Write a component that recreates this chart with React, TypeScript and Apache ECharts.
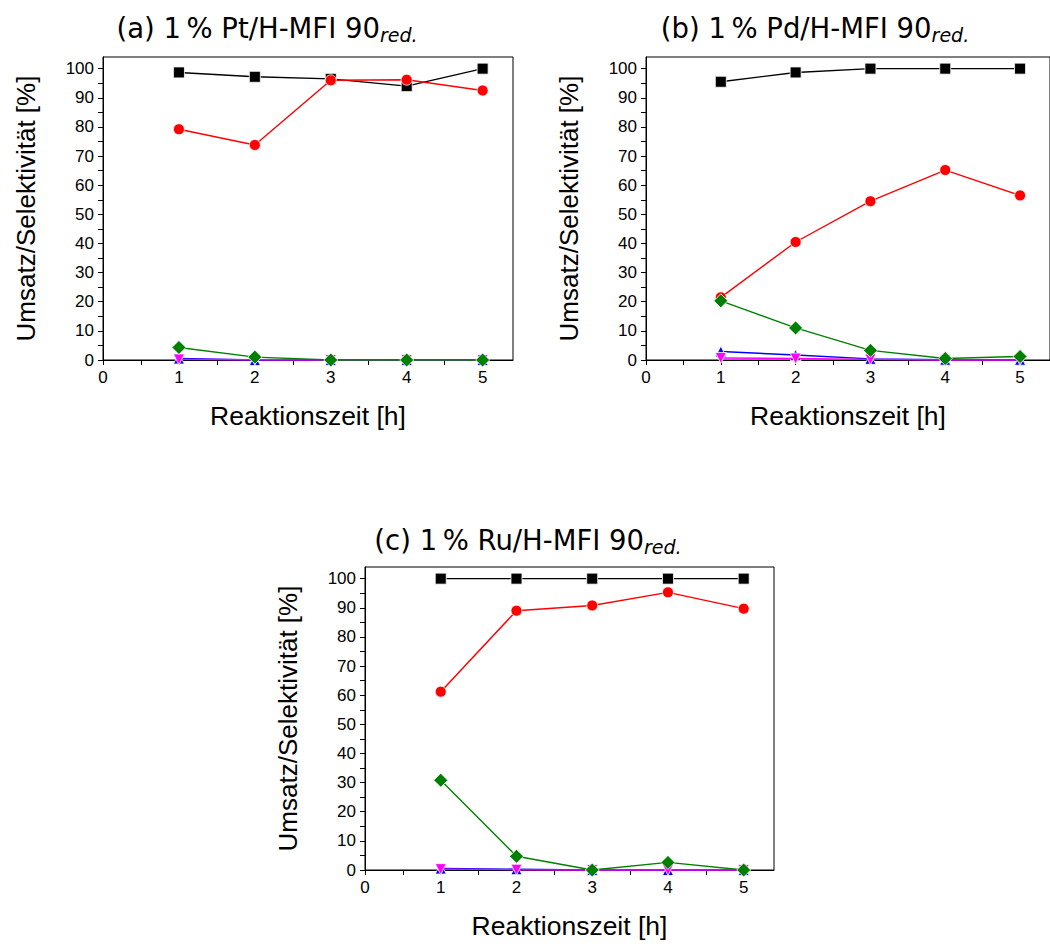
import React, { useEffect, useRef } from "react";
import * as echarts from "echarts";

const hours = [1, 2, 3, 4, 5];

// (a) 1% Pt/H-MFI 90 red.
const ptConversion = [98.7, 97.2, 96.5, 94.0, 100.0];
const ptRed = [79.2, 73.8, 96.0, 96.2, 92.5];
const ptGreen = [4.3, 1.0, 0.0, 0.0, 0.0];
const ptBlue = [0.5, 0.0, 0.0, 0.0, 0.0];
const ptMagenta = [0.2, 0.1, 0.0, 0.0, 0.0];

// (b) 1% Pd/H-MFI 90 red.
const pdConversion = [95.5, 98.7, 100.0, 100.0, 100.0];
const pdRed = [21.5, 40.5, 54.5, 65.2, 56.5];
const pdGreen = [20.3, 11.0, 3.3, 0.5, 1.2];
const pdBlue = [2.9, 1.7, 0.4, 0.1, 0.1];
const pdMagenta = [0.7, 0.5, 0.2, 0.0, 0.0];

// (c) 1% Ru/H-MFI 90 red.
const ruConversion = [100.0, 100.0, 100.0, 100.0, 100.0];
const ruRed = [61.2, 89.0, 90.8, 95.3, 89.7];
const ruGreen = [30.8, 4.7, 0.0, 2.6, 0.0];
const ruBlue = [0.5, 0.3, 0.0, 0.0, 0.0];
const ruMagenta = [0.3, 0.1, 0.0, 0.0, 0.0];

const yTicks = [0, 5, 10, 15, 20, 25, 30, 35, 40, 45, 50, 55, 60, 65, 70, 75, 80, 85, 90, 95, 100];
const yLabels = [0, 10, 20, 30, 40, 50, 60, 70, 80, 90, 100];
const xTicks = [0, 0.5, 1, 1.5, 2, 2.5, 3, 3.5, 4, 4.5, 5];
const xLabels = [0, 1, 2, 3, 4, 5];

const titles = ["(a) 1\u2009% Pt/H-MFI 90", "(b) 1\u2009% Pd/H-MFI 90", "(c) 1\u2009% Ru/H-MFI 90"];
const yName = "Umsatz/Selektivität [%]";
const xName = "Reaktionszeit [h]";

const panels = [
  [ptConversion, ptRed, ptBlue, ptMagenta, ptGreen],
  [pdConversion, pdRed, pdBlue, pdMagenta, pdGreen],
  [ruConversion, ruRed, ruBlue, ruMagenta, ruGreen],
];

const seriesStyles = [
  { color: "#000000", symbol: "rect", size: 11, rotate: 0 },
  { color: "#ff0000", symbol: "circle", size: 11, rotate: 0 },
  { color: "#0000ff", symbol: "triangle", size: 11, rotate: 0 },
  { color: "#ff00ff", symbol: "triangle", size: 11, rotate: 180 },
  { color: "#008000", symbol: "diamond", size: 14, rotate: 0 },
];

const gridPos = [
  { left: 103, top: 57, width: 410, height: 303 },
  { left: 646, top: 57, width: 410, height: 303 },
  { left: 365, top: 567, width: 409, height: 303 },
];

const titlePos = [
  { x: 267, y: 28 },
  { x: 815, y: 28 },
  { x: 528, y: 540 },
];

export default function App() {
  const ref = useRef<HTMLDivElement>(null);
  useEffect(() => {
    if (!ref.current) return;
    const chart = echarts.init(ref.current, undefined, { renderer: "svg" });
    const axisFont = "Liberation Sans";
    const grid = gridPos.map((g) => ({
      ...g,
      show: true,
      borderColor: "#000",
      borderWidth: 1,
      backgroundColor: "transparent",
    }));
    const xAxis = gridPos.map((_, i) => ({
      type: "value",
      gridIndex: i,
      min: 0,
      max: 5.4,
      name: xName,
      nameLocation: "middle",
      nameGap: 42,
      nameTextStyle: { fontFamily: axisFont, fontSize: 26.5, color: "#000" },
      axisLine: { show: true, lineStyle: { color: "#000", width: 1 } },
      axisTick: { show: true, inside: false, length: 5, customValues: xTicks, lineStyle: { color: "#000" } },
      axisLabel: { customValues: xLabels, margin: 9, fontFamily: axisFont, fontSize: 17, color: "#000" },
      splitLine: { show: false },
    }));
    const yAxis = gridPos.map((_, i) => ({
      type: "value",
      gridIndex: i,
      min: 0,
      max: 104,
      name: yName,
      nameLocation: "middle",
      nameGap: 64,
      nameTextStyle: { fontFamily: axisFont, fontSize: 26, color: "#000" },
      axisLine: { show: true, lineStyle: { color: "#000", width: 1 } },
      axisTick: { show: true, inside: false, length: 5, customValues: yTicks, lineStyle: { color: "#000" } },
      axisLabel: { customValues: yLabels, margin: 9, fontFamily: axisFont, fontSize: 17, color: "#000" },
      splitLine: { show: false },
    }));
    const series: any[] = [];
    panels.forEach((arrs, pi) => {
      arrs.forEach((vals, si) => {
        const st = seriesStyles[si];
        series.push({
          type: "line",
          xAxisIndex: pi,
          yAxisIndex: pi,
          data: hours.map((h, k) => [h, vals[k]]),
          symbol: st.symbol,
          symbolSize: st.size,
          symbolRotate: st.rotate,
          showSymbol: true,
          clip: false,
          lineStyle: { color: st.color, width: 1.4 },
          itemStyle: { color: st.color, borderColor: "#fff", borderWidth: 0.8 },
          z: 2 + si,
        });
      });
    });
    const graphic = titles.map((t, i) => ({
      type: "text",
      x: titlePos[i].x,
      y: titlePos[i].y,
      style: {
        text: t + "{sub|red.}",
        rich: {
          sub: {
            fontFamily: "DejaVu Sans",
            fontStyle: "italic",
            fontSize: 19,
            padding: [13, 0, 0, 0],
            fill: "#000",
          },
        },
        fontFamily: "DejaVu Sans",
        fontSize: 27.5,
        fill: "#000",
        align: "center",
        verticalAlign: "middle",
      },
    }));
    chart.setOption({
      animation: false,
      backgroundColor: "#fff",
      grid,
      xAxis,
      yAxis,
      series,
      graphic,
    });
    return () => chart.dispose();
  }, []);
  return (
    <div
      ref={ref}
      style={{ position: "fixed", left: 0, top: 0, width: 1050, height: 944 }}
    />
  );
}
